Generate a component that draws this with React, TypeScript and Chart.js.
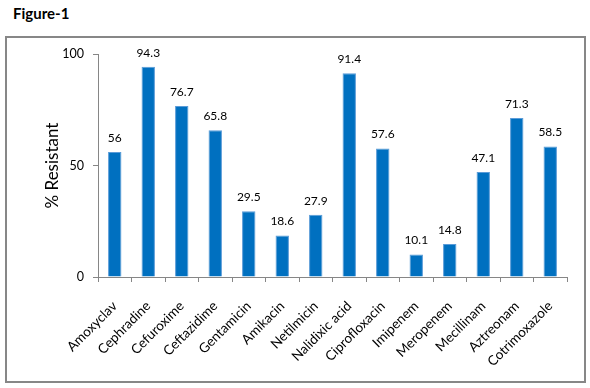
import React, { useEffect, useRef } from "react";
import { Chart, registerables } from "chart.js";

Chart.register(...registerables);

const categories = [
  "Amoxyclav", "Cephradine", "Cefuroxime", "Ceftazidime", "Gentamicin", "Amikacin",
  "Netilmicin", "Nalidixic acid", "Ciprofloxacin", "Imipenem", "Meropenem",
  "Mecillinam", "Aztreonam", "Cotrimoxazole",
];
const resistant = [56, 94.3, 76.7, 65.8, 29.5, 18.6, 27.9, 91.4, 57.6, 10.1, 14.8, 47.1, 71.3, 58.5];
const yTicks = [0, 50, 100];

const FONT = "Lato, 'Liberation Sans', sans-serif";

const dataLabelPlugin = {
  id: "dataLabels",
  afterDatasetsDraw(chart: any) {
    const ctx = chart.ctx;
    const meta = chart.getDatasetMeta(0);
    ctx.save();
    ctx.font = `12px ${FONT}`;
    ctx.fillStyle = "#000";
    ctx.textAlign = "center";
    ctx.textBaseline = "bottom";
    meta.data.forEach((bar: any, i: number) => {
      ctx.fillText(String(resistant[i]), bar.x, bar.y - 8);
    });
    ctx.restore();
  },
};

export default function App() {
  const ref = useRef<HTMLCanvasElement>(null);
  useEffect(() => {
    if (!ref.current) return;
    const chart = new Chart(ref.current, {
      type: "bar",
      data: {
        labels: categories,
        datasets: [
          {
            data: resistant,
            backgroundColor: "#0070C0",
            borderColor: "#5a9bd8",
            borderWidth: 1,
            barPercentage: 0.4,
            categoryPercentage: 1,
          },
        ],
      },
      options: {
        animation: false,
        responsive: false,
        maintainAspectRatio: false,
        layout: { padding: { left: 0, right: 23, top: 54, bottom: 0 } },
        plugins: { legend: { display: false }, tooltip: { enabled: false } },
        scales: {
          x: {
            grid: { drawOnChartArea: false, drawTicks: true, tickLength: 5, tickColor: "#868686", offset: true },
            border: { color: "#868686", width: 1 },
            ticks: {
              color: "#000",
              font: { family: FONT, size: 13.5 },
              minRotation: 45,
              maxRotation: 45,
              autoSkip: false,
              padding: 16,
            },
            afterFit: (s: any) => { s.height = 111; },
          },
          y: {
            min: 0,
            max: 100,
            afterBuildTicks: (s: any) => { s.ticks = yTicks.map((v) => ({ value: v })); },
            grid: { drawOnChartArea: false, drawTicks: true, tickLength: 5, tickColor: "#868686" },
            border: { color: "#868686", width: 1 },
            ticks: { color: "#000", font: { family: FONT, size: 12.5 }, padding: 9 },
            title: {
              display: true,
              text: "% Resistant",
              color: "#000",
              font: { family: FONT, size: 17 },
              padding: { top: 42, bottom: 0 },
            },
            afterFit: (s: any) => { s.width = 98; },
          },
        },
      },
      plugins: [dataLabelPlugin],
    });
    return () => chart.destroy();
  }, []);

  return (
    <div style={{ position: "absolute", left: 0, top: 0, width: 590, height: 388, background: "#fff", fontFamily: FONT }}>
      <div style={{ position: "absolute", left: 13, top: 4, fontSize: 15, fontWeight: 700, color: "#000" }}>Figure-1</div>
      <div
        style={{
          position: "absolute",
          left: 5,
          top: 36,
          width: 577,
          height: 343,
          border: "2px solid #878787",
        }}
      />
      <canvas ref={ref} width={590} height={388} style={{ position: "absolute", left: 0, top: 0 }} />
    </div>
  );
}
